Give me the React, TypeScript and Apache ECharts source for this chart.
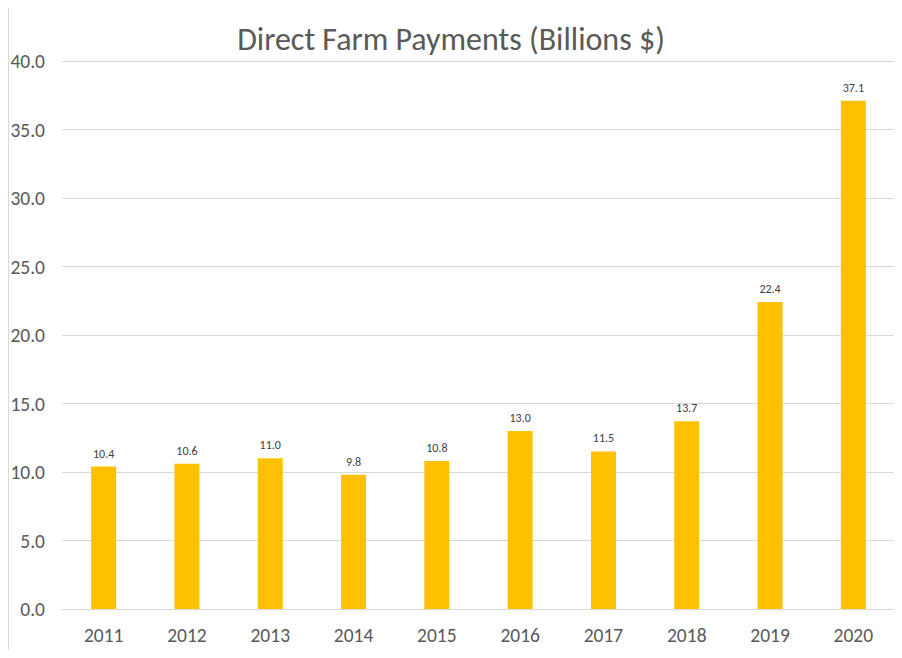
import React, { useEffect, useRef } from "react";
import * as echarts from "echarts";

const categories = ["2011", "2012", "2013", "2014", "2015", "2016", "2017", "2018", "2019", "2020"];
const payments = [10.4, 10.6, 11.0, 9.8, 10.8, 13.0, 11.5, 13.7, 22.4, 37.1];
const titleText = "Direct Farm Payments (Billions $)";

export default function App() {
  const ref = useRef<HTMLDivElement>(null);
  useEffect(() => {
    if (!ref.current) return;
    const chart = echarts.init(ref.current, undefined, { renderer: "svg" });
    const font = "Calibri, 'Open Sans', 'Liberation Sans', sans-serif";
    chart.setOption({
      animation: false,
      backgroundColor: "#ffffff",
      textStyle: { fontFamily: font },
      title: {
        text: titleText,
        left: "center",
        top: 18,
        textStyle: { fontFamily: font, fontSize: 32, fontWeight: "normal", color: "#595959" },
      },
      graphic: [
        { type: "rect", shape: { x: 0, y: 0, width: 902, height: 658 }, style: { fill: "#f3f3f3" }, z: -10, silent: true },
        { type: "line", shape: { x1: 0, y1: 1.5, x2: 902, y2: 1.5 }, style: { stroke: "#a8a8a8", lineWidth: 2 }, z: -9 },
        { type: "line", shape: { x1: 0, y1: 655.5, x2: 902, y2: 655.5 }, style: { stroke: "#a8a8a8", lineWidth: 2 }, z: -9 },
        { type: "rect", shape: { x: 8.5, y: 6.5, width: 887, height: 645 }, style: { fill: "#ffffff", stroke: "#d9d9d9", lineWidth: 1 }, z: -8 },
      ],
      grid: { left: 62, right: 7, top: 61, bottom: 49, containLabel: false },
      xAxis: {
        type: "category",
        data: categories,
        axisLine: { show: true, lineStyle: { color: "#d9d9d9" } },
        axisTick: { show: false },
        axisLabel: { color: "#595959", fontSize: 19.5, margin: 16, fontFamily: font },
      },
      yAxis: {
        type: "value",
        min: 0,
        max: 40,
        interval: 5,
        axisLine: { show: false },
        axisTick: { show: false },
        splitLine: { lineStyle: { color: "#d9d9d9" } },
        axisLabel: {
          color: "#595959",
          fontSize: 19.5,
          margin: 17,
          fontFamily: font,
          formatter: (v: number) => v.toFixed(1),
        },
      },
      series: [
        {
          type: "bar",
          data: payments,
          barWidth: 25,
          itemStyle: { color: "#FFC000" },
          label: {
            show: true,
            position: "top",
            distance: 7,
            fontSize: 12,
            color: "#404040",
            fontFamily: font,
            formatter: (p: any) => Number(p.value).toFixed(1),
          },
        },
      ],
    });
    return () => chart.dispose();
  }, []);
  return <div ref={ref} style={{ width: 902, height: 658, margin: -8 }} />;
}
